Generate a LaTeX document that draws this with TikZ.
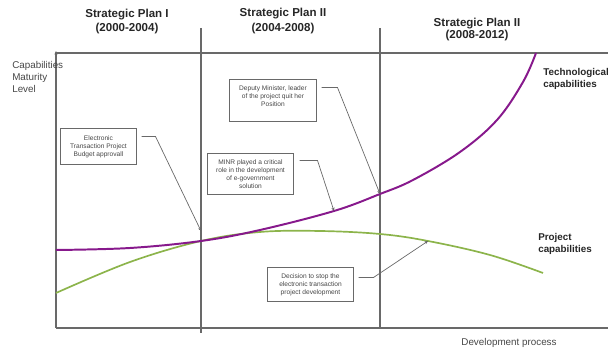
\documentclass[tikz,border=0pt]{standalone}
\usepackage{fontspec}
\setmainfont{Liberation Sans}
\usetikzlibrary{arrows.meta}
\definecolor{techpurple}{RGB}{135,25,140}
\definecolor{projgreen}{RGB}{140,180,75}
\definecolor{linegray}{RGB}{105,105,105}
\definecolor{textgray}{RGB}{70,70,70}
\begin{document}
\begin{tikzpicture}[x=0.025cm,y=-0.025cm,plan/.style={font=\fontsize{8.2}{10}\selectfont\bfseries,align=center,text=black!85},axislabel/.style={font=\fontsize{7}{8.5}\selectfont,text=textgray,align=left,inner sep=0pt},curvelabel/.style={font=\fontsize{7}{8.5}\selectfont\bfseries,text=black!85,align=left,anchor=north west,inner sep=0pt},event/.style={draw=linegray,line width=0.7pt,font=\fontsize{4.7}{5.6}\selectfont,text=textgray,align=center,inner sep=1pt},pointer/.style={draw=linegray,line width=0.5pt,-{Stealth[length=2.5pt,width=2.2pt,fill=black]}}]
	\useasboundingbox (0,0) rectangle (608,352);
	\draw[linegray,line width=0.8pt,-{Stealth[length=2.5pt,width=2.2pt,fill=black]}] (56,328) -- (56,51);
	\draw[linegray,line width=0.8pt] (56,53) -- (608,53) (56,328) -- (608,328);
	\draw[linegray,line width=0.8pt] (201,28) -- (201,333) (380,28) -- (380,328);
	\node[plan] (plan1) at (127,21.5) {Strategic Plan I\\(2000-2004)};
	\node[plan] (plan2) at (283,21) {Strategic Plan II\\(2004-2008)};
	\node[plan,font=\fontsize{8.2}{8.5}\selectfont\bfseries] (plan3) at (477,29.5) {Strategic Plan II\\(2008-2012)};
	\node[axislabel,anchor=north west] (ylabel) at (12,61) {Capabilities\\Maturity\\Level};
	\node[axislabel] (xlabel) at (509,343) {Development process};
	\node[curvelabel] (techlabel) at (543,68) {Technological\\capabilities};
	\node[curvelabel] (projlabel) at (538,233) {Project\\capabilities};
	\draw[projgreen,line width=1.2pt] plot[smooth,tension=0.6] coordinates {(56,293) (130,262) (201,241) (260,232) (320,231) (380,234) (428,241) (490,255) (543,273)};
	\draw[techpurple,line width=1.4pt] plot[smooth,tension=0.6] coordinates {(56,250) (130,248) (201,241) (260,230) (334,211) (380,194) (413,180) (460,152) (497,120) (523,82) (536,53)};
	\node[event,minimum width=1.875cm,minimum height=0.875cm] (budget) at (98.5,146.5) {Electronic\\Transaction Project\\Budget approvall};
	\node[event,minimum width=2.15cm,minimum height=1.025cm,text depth=6.5pt] (deputy) at (273,100.5) {Deputy Minister, leader\\of the project quit her\\Position};
	\node[event,minimum width=2.125cm,minimum height=1cm] (minr) at (250.5,174) {MINR played a critical\\role in the development\\of e-government\\solution};
	\node[event,minimum width=2.125cm,minimum height=0.825cm] (decision) at (310.5,284.5) {Decision to stop the\\electronic transaction\\project development};
	\coordinate (budgettip) at (201,231);
	\coordinate (deputytip) at (380,194);
	\coordinate (minrtip) at (334,211);
	\coordinate (decisiontip) at (428,241);
	\draw[pointer] ([shift={(5,8)}]budget.north east) -- ++(14,0) -- (budgettip);
	\draw[pointer] ([shift={(5,8)}]deputy.north east) -- ++(16,0) -- (deputytip);
	\draw[pointer] ([shift={(6,7)}]minr.north east) -- ++(18,0) -- (minrtip);
	\draw[pointer] ([shift={(5,10)}]decision.north east) -- ++(15,0) -- (decisiontip);
\end{tikzpicture}
\end{document}
